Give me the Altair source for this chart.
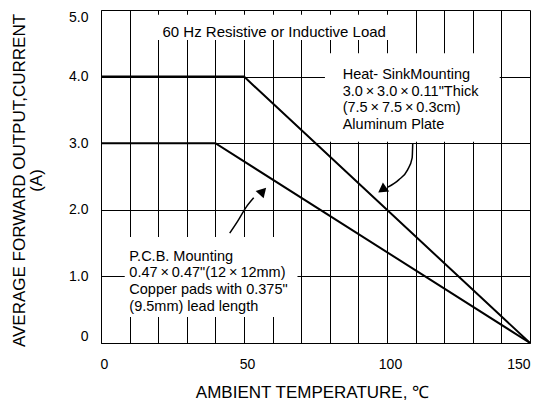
import altair as alt
import pandas as pd

# derating curves
heat_t = [0, 50, 150]
heat_i = [4.0, 4.0, 0.0]
pcb_t = [0, 40, 150]
pcb_i = [3.0, 3.0, 0.0]

x_grid = list(range(0, 151, 10))
y_ticks = [0, 1, 2, 3, 4, 5]

# annotation text
label_text = [
    "60 Hz Resistive or Inductive Load",
    "Heat- SinkMounting\n3.0\u2009×\u20093.0\u2009×\u20090.11\"Thick\n(7.5\u2009×\u20097.5\u2009×\u20090.3cm)\nAluminum Plate",
    "P.C.B. Mounting\n0.47\u2009×\u20090.47\"(12\u2009×\u200912mm)\nCopper pads with 0.375\"\n(9.5mm) lead length",
]
label_x = [21.5, 84.5, 9.9]
label_y = [4.77, 4.13, 1.40]
label_size = [15, 14.5, 14.5]

# white boxes behind text
box_x = [14.0, 78.3, 8.3]
box_x2 = [103.0, 139.4, 68.7]
box_y = [4.93, 4.35, 1.59]
box_y2 = [4.55, 3.02, 0.39]

# arrows
arrow_heat_t = [109.0, 108.8, 107.2, 104.1, 100.3]
arrow_heat_i = [3.0, 2.78, 2.60, 2.45, 2.34]
arrow_pcb_t = [45.0, 47.8, 50.6, 53.4]
arrow_pcb_i = [1.65, 1.83, 2.03, 2.18]
head_t = [98.3, 56.6]
head_i = [2.30, 2.28]
head_angle = [235, 43]

curves = pd.DataFrame({
    "t": heat_t + pcb_t,
    "i": heat_i + pcb_i,
    "s": ["heat"] * len(heat_t) + ["pcb"] * len(pcb_t),
})
labels = pd.DataFrame({"t": label_x, "i": label_y, "text": label_text, "fs": label_size})
boxes = pd.DataFrame({"t": box_x, "t2": box_x2, "i": box_y, "i2": box_y2})
arrows = pd.DataFrame({
    "t": arrow_heat_t + arrow_pcb_t,
    "i": arrow_heat_i + arrow_pcb_i,
    "s": ["heat"] * len(arrow_heat_t) + ["pcb"] * len(arrow_pcb_t),
    "o": list(range(len(arrow_heat_t))) + list(range(len(arrow_pcb_t))),
})
heads = pd.DataFrame({"t": head_t, "i": head_i, "a": head_angle})

FONT = "Liberation Sans"
xs = alt.Scale(domain=[0, 150], nice=False)
ys = alt.Scale(domain=[0, 5], nice=False)

xaxis = alt.Axis(
    values=x_grid,
    labelExpr="datum.value % 50 === 0 ? datum.label : ''",
    grid=True, gridColor="black", gridOpacity=1, gridWidth=1,
    ticks=False, tickSize=0,
    domainColor="black", domainWidth=1,
    labelFont=FONT, labelFontSize=14, labelColor="black", labelPadding=14,
    labelOffset={"condition": {"test": "datum.value === 150", "value": 0}, "value": 3},
    labelAlign={"condition": {"test": "datum.value === 150", "value": "right"}, "value": "center"},
    labelFlush=False, labelBound=False,
    title="AMBIENT TEMPERATURE, \u2103",
    titleFont=FONT, titleFontSize=17, titleFontWeight="normal", titleColor="black",
    titleX=211, titleY=49, titleBaseline="middle", titleAlign="center",
)
yaxis = alt.Axis(
    values=y_ticks,
    labelExpr="datum.value === 0 ? '0' : format(datum.value, '.1f')",
    grid=True, gridColor="black", gridOpacity=1, gridWidth=1,
    ticks=False, tickSize=0,
    domainColor="black", domainWidth=1,
    labelFont=FONT, labelFontSize=14, labelColor="black", labelPadding=13,
    labelFlush=True,
    title=["AVERAGE FORWARD OUTPUT,CURRENT", "(A)"],
    titleFont=FONT, titleFontSize=17, titleFontWeight="normal", titleColor="black",
    titleX=-82, titleY=170, titleAngle=270, titleAlign="center",
    titleBaseline="middle", titleLineHeight=17,
)


def X(f="t"):
    return alt.X(f, type="quantitative", scale=xs, axis=xaxis)


def Y(f="i"):
    return alt.Y(f, type="quantitative", scale=ys, axis=yaxis)


box_layer = alt.Chart(boxes).mark_rect(color="white", opacity=1).encode(
    x=X(), x2="t2", y=Y(), y2="i2"
)
curve_layer = alt.Chart(curves).mark_line(color="black", strokeWidth=2).encode(
    x=X(), y=Y(), detail="s"
)
arrow_layer = alt.Chart(arrows).mark_line(color="black", strokeWidth=1.5, interpolate="monotone").encode(
    x=X(), y=Y(), detail="s", order="o"
)
head_layer = alt.Chart(heads).mark_point(
    shape="triangle-up", filled=True, color="black", opacity=1, size=120
).encode(x=X(), y=Y(), angle=alt.Angle("a:Q", scale=None))
text_layer = alt.Chart(labels).mark_text(
    align="left", baseline="top", font=FONT, color="black", lineBreak="\n", lineHeight=16.6
).encode(x=X(), y=Y(), text="text:N", size=alt.Size("fs:Q", scale=None, legend=None))

chart = alt.layer(box_layer, curve_layer, arrow_layer, head_layer, text_layer).properties(
    width=429, height=333,
    autosize=alt.AutoSizeParams(type="none"),
    padding={"left": 93, "top": 2, "right": 1, "bottom": 60},
    background="white",
).configure_view(strokeWidth=0)

chart.save("out.html", embed_options={"renderer": "svg", "actions": False})
